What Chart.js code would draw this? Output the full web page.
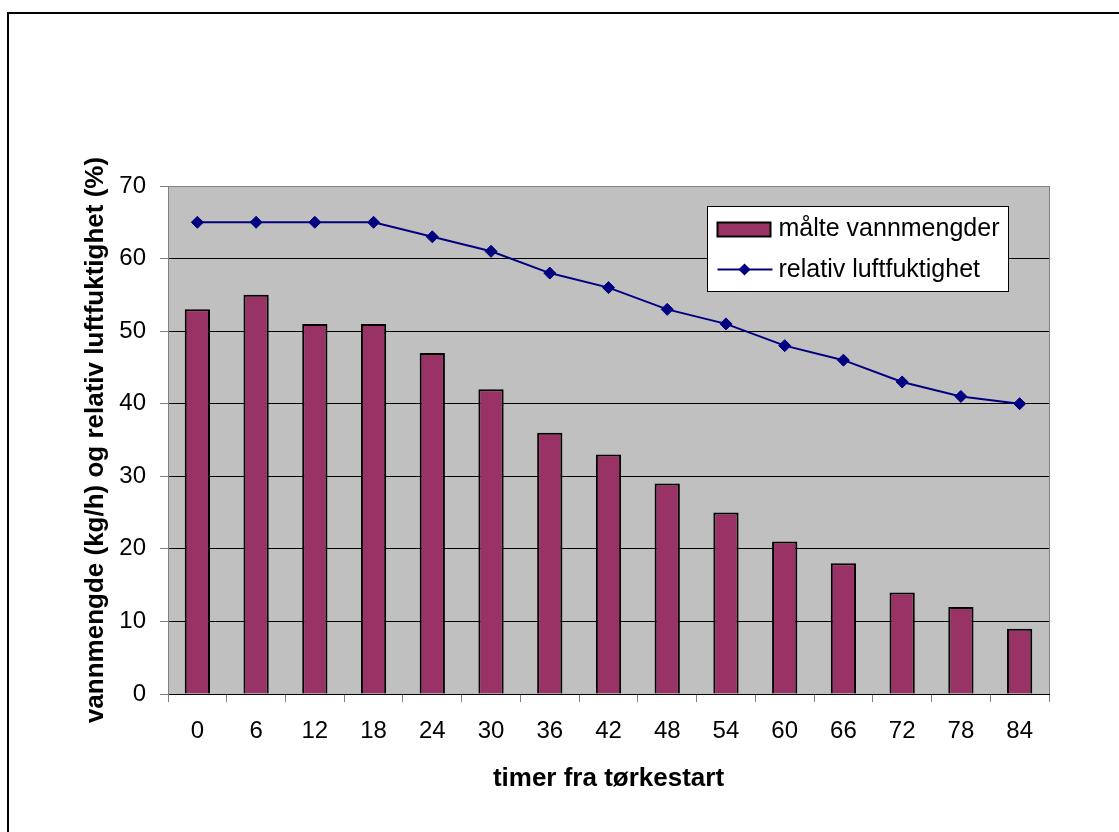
<!DOCTYPE html>
<html>
<head>
<meta charset="utf-8">
<script src="https://cdn.jsdelivr.net/npm/chart.js@4.4.1/dist/chart.umd.min.js"></script>
<style>
  html, body { margin: 0; padding: 0; background: #fff; overflow: hidden; }
  #frame {
    position: absolute; left: 7px; top: 12px; width: 1200px; height: 900px;
    border-top: 2px solid #000; border-left: 2px solid #000;
  }
  #wrap { position: absolute; left: 0; top: 0; width: 1119px; height: 832px; }
</style>
</head>
<body>
<div id="frame"></div>
<div id="wrap"><canvas id="chart" width="1119" height="832"></canvas></div>
<script>
// ----------------------------------------
// Data
// ----------------------------------------
const hours = ['0', '6', '12', '18', '24', '30', '36', '42', '48', '54', '60', '66', '72', '78', '84'];
const waterAmounts = [53, 55, 51, 51, 47, 42, 36, 33, 29, 25, 21, 18, 14, 12, 9];
const humidity = [65, 65, 65, 65, 63, 61, 58, 56, 53, 51, 48, 46, 43, 41, 40];
const yTicks = [0, 10, 20, 30, 40, 50, 60, 70];

const barLabel = 'målte vannmengder';
const lineLabel = 'relativ luftfuktighet';
const xTitle = 'timer fra tørkestart';
const yTitle = 'vannmengde (kg/h) og relativ luftfuktighet (%)';

const FONT = "'Liberation Sans', Arial, sans-serif";
const BAR_COLOR = '#993366';
const LINE_COLOR = '#000080';

// ----------------------------------------
// Plot background + right border
// ----------------------------------------
const plotBackground = {
  id: 'plotBackground',
  beforeDraw(chart) {
    const { ctx, chartArea: a } = chart;
    ctx.save();
    ctx.fillStyle = '#c0c0c0';
    ctx.fillRect(a.left, a.top, a.right - a.left, a.bottom - a.top);
    ctx.restore();
  },
  afterDraw(chart) {
    const { ctx, chartArea: a } = chart;
    ctx.save();
    ctx.strokeStyle = '#808080';
    ctx.lineWidth = 1;
    ctx.beginPath();
    ctx.moveTo(a.right + 0.5, a.top);
    ctx.lineTo(a.right + 0.5, a.bottom);
    ctx.stroke();
    ctx.restore();
  }
};

// ----------------------------------------
// Legend box inside the plot
// ----------------------------------------
const legendBox = {
  id: 'legendBox',
  afterDraw(chart) {
    const { ctx, chartArea: a } = chart;
    const x = a.right - 341.5, y = a.top + 20.5, w = 301, h = 85;
    ctx.save();
    ctx.fillStyle = '#fff';
    ctx.fillRect(x, y, w, h);
    ctx.strokeStyle = '#000';
    ctx.lineWidth = 1;
    ctx.strokeRect(x, y, w, h);

    // bar swatch
    ctx.fillStyle = BAR_COLOR;
    ctx.fillRect(x + 10, y + 16, 53, 14);
    ctx.lineWidth = 2;
    ctx.strokeRect(x + 10, y + 16, 53, 14);

    // line swatch
    ctx.strokeStyle = LINE_COLOR;
    ctx.lineWidth = 2;
    ctx.beginPath();
    ctx.moveTo(x + 10, y + 63);
    ctx.lineTo(x + 65, y + 63);
    ctx.stroke();
    ctx.fillStyle = LINE_COLOR;
    ctx.beginPath();
    ctx.moveTo(x + 37, y + 57);
    ctx.lineTo(x + 43, y + 63);
    ctx.lineTo(x + 37, y + 69);
    ctx.lineTo(x + 31, y + 63);
    ctx.closePath();
    ctx.fill();

    ctx.fillStyle = '#000';
    ctx.font = '25px ' + FONT;
    ctx.textBaseline = 'middle';
    ctx.fillText(barLabel, x + 71, y + 23);
    ctx.fillText(lineLabel, x + 71, y + 64);
    ctx.restore();
  }
};

// ----------------------------------------
// Chart
// ----------------------------------------
const ctx = document.getElementById('chart');
new Chart(ctx, {
  type: 'bar',
  data: {
    labels: hours,
    datasets: [
      {
        type: 'line',
        label: lineLabel,
        data: humidity,
        order: 0,
        borderColor: LINE_COLOR,
        backgroundColor: LINE_COLOR,
        borderWidth: 2,
        tension: 0,
        pointStyle: 'rectRot',
        pointRadius: 6,
        pointBorderWidth: 1,
        pointBackgroundColor: LINE_COLOR,
        pointBorderColor: LINE_COLOR,
      },
      {
        type: 'bar',
        label: barLabel,
        data: waterAmounts,
        order: 1,
        backgroundColor: BAR_COLOR,
        borderColor: '#000',
        borderWidth: 2,
        barPercentage: 0.43,
        categoryPercentage: 1,
      }
    ]
  },
  options: {
    responsive: false,
    animation: false,
    layout: { padding: { top: 186, right: 70, left: 0, bottom: 0 } },
    plugins: {
      legend: { display: false },
      tooltip: { enabled: false }
    },
    scales: {
      x: {
        offset: true,
        afterFit: (scale) => { scale.height = 138; },
        grid: {
          offset: true,
          drawOnChartArea: false,
          drawTicks: true,
          tickLength: 8,
          tickColor: '#808080'
        },
        border: { color: '#000', width: 1 },
        ticks: { color: '#000', padding: 15, font: { family: FONT, size: 24 }, maxRotation: 0 },
        title: {
          display: true,
          text: xTitle,
          color: '#000',
          font: { family: FONT, size: 26, weight: 'bold' },
          padding: { top: 0, bottom: 38 }
        }
      },
      y: {
        min: 0,
        max: 70,
        afterFit: (scale) => { scale.width = 168; },
        afterBuildTicks: (scale) => { scale.ticks = yTicks.map(v => ({ value: v })); },
        grid: {
          color: (c) => (c.tick && c.tick.value === 70 ? '#808080' : '#000'),
          tickColor: '#808080',
          tickLength: 8,
          lineWidth: 1
        },
        border: { color: '#808080', width: 1 },
        ticks: { color: '#000', padding: 14, font: { family: FONT, size: 24 } },
        title: {
          display: true,
          text: yTitle,
          color: '#000',
          font: { family: FONT, size: 26, weight: 'bold' },
          padding: { top: 80, bottom: 0 }
        }
      }
    }
  },
  plugins: [plotBackground, legendBox]
});
</script>
</body>
</html>
